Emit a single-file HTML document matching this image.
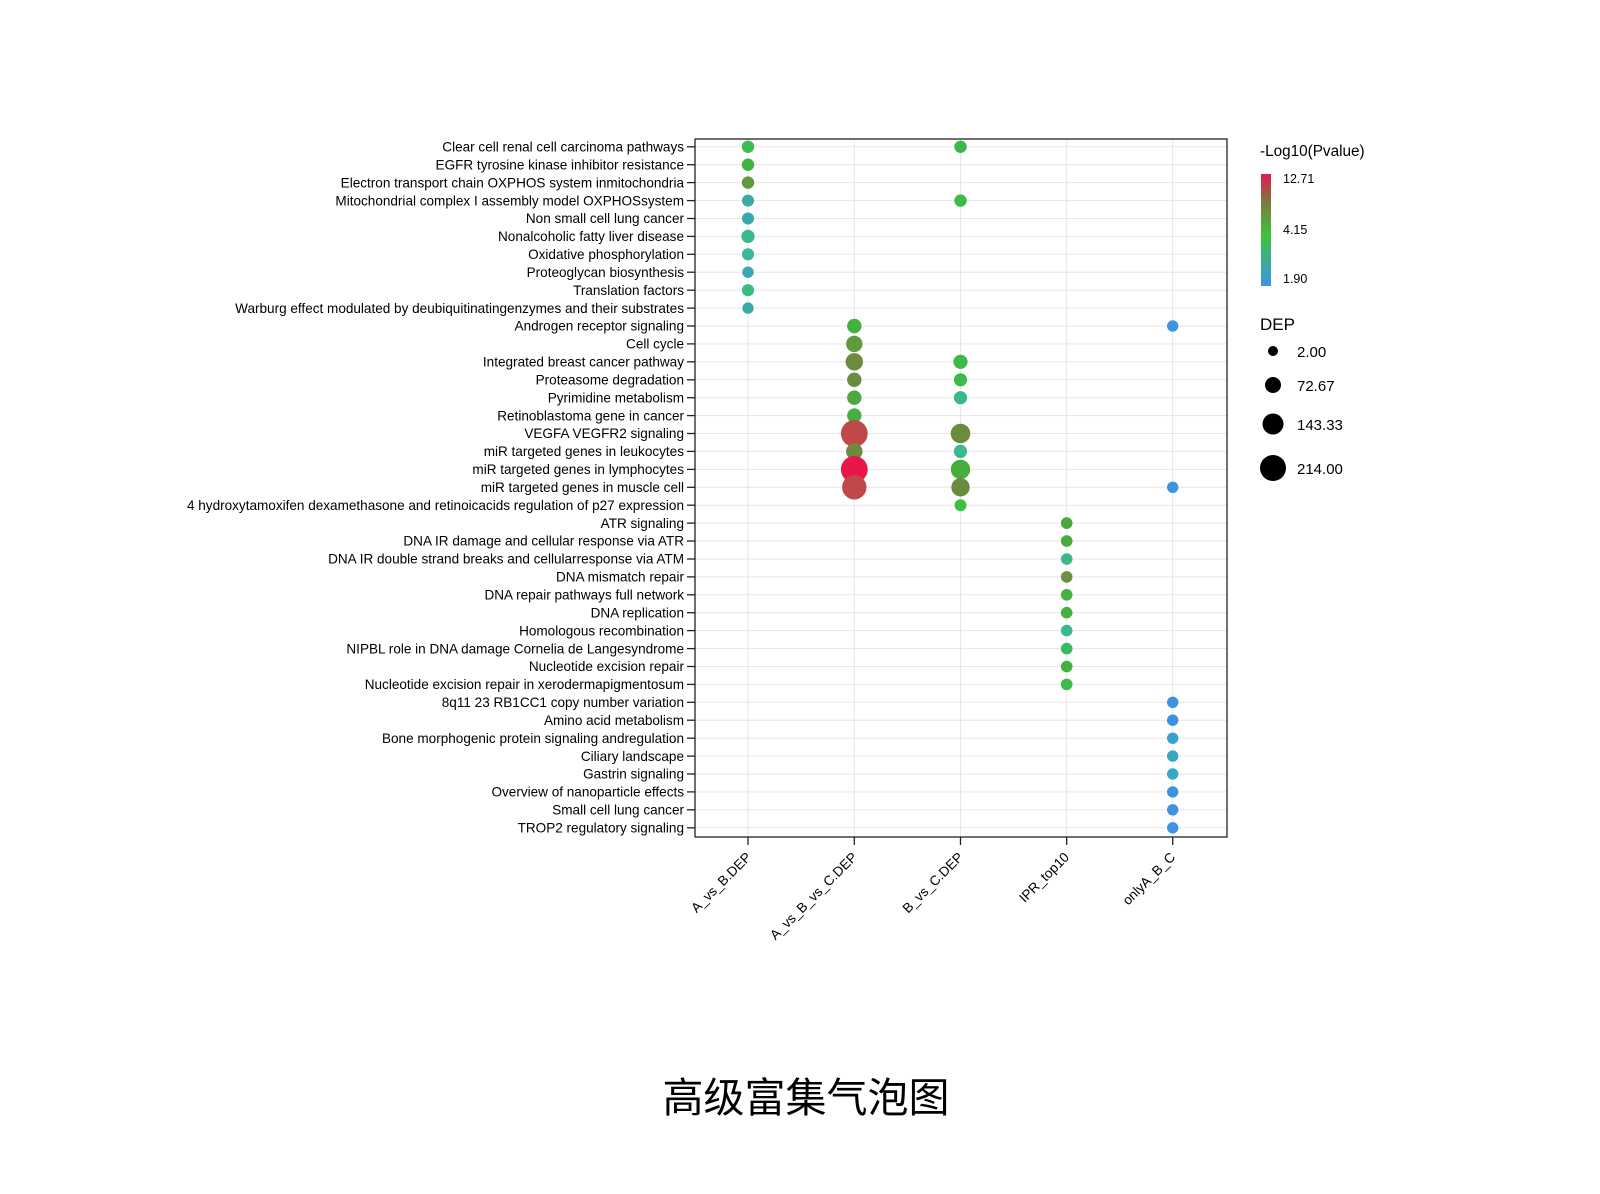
<!DOCTYPE html>
<html><head><meta charset="utf-8"><style>
html,body{margin:0;padding:0;background:#fff;}
svg{display:block;}
text{font-family:"Liberation Sans",Arial,sans-serif;fill:#000;}
</style></head><body>
<svg width="1600" height="1194" viewBox="0 0 1600 1194" xmlns="http://www.w3.org/2000/svg">
<defs><linearGradient id="cg" x1="0" y1="1" x2="0" y2="0">
<stop offset="0" stop-color="#3e93e8"/><stop offset="0.45" stop-color="#3cc43c"/><stop offset="0.75" stop-color="#7a7a40"/><stop offset="1" stop-color="#e8174a"/></linearGradient></defs>
<g stroke="#e6e6e6" stroke-width="1">
<line x1="695" x2="1227" y1="146.8" y2="146.8"/><line x1="695" x2="1227" y1="164.7" y2="164.7"/><line x1="695" x2="1227" y1="182.6" y2="182.6"/><line x1="695" x2="1227" y1="200.6" y2="200.6"/><line x1="695" x2="1227" y1="218.5" y2="218.5"/><line x1="695" x2="1227" y1="236.4" y2="236.4"/><line x1="695" x2="1227" y1="254.3" y2="254.3"/><line x1="695" x2="1227" y1="272.2" y2="272.2"/><line x1="695" x2="1227" y1="290.2" y2="290.2"/><line x1="695" x2="1227" y1="308.1" y2="308.1"/><line x1="695" x2="1227" y1="326" y2="326"/><line x1="695" x2="1227" y1="343.9" y2="343.9"/><line x1="695" x2="1227" y1="361.8" y2="361.8"/><line x1="695" x2="1227" y1="379.8" y2="379.8"/><line x1="695" x2="1227" y1="397.7" y2="397.7"/><line x1="695" x2="1227" y1="415.6" y2="415.6"/><line x1="695" x2="1227" y1="433.5" y2="433.5"/><line x1="695" x2="1227" y1="451.4" y2="451.4"/><line x1="695" x2="1227" y1="469.4" y2="469.4"/><line x1="695" x2="1227" y1="487.3" y2="487.3"/><line x1="695" x2="1227" y1="505.2" y2="505.2"/><line x1="695" x2="1227" y1="523.1" y2="523.1"/><line x1="695" x2="1227" y1="541" y2="541"/><line x1="695" x2="1227" y1="559" y2="559"/><line x1="695" x2="1227" y1="576.9" y2="576.9"/><line x1="695" x2="1227" y1="594.8" y2="594.8"/><line x1="695" x2="1227" y1="612.7" y2="612.7"/><line x1="695" x2="1227" y1="630.6" y2="630.6"/><line x1="695" x2="1227" y1="648.6" y2="648.6"/><line x1="695" x2="1227" y1="666.5" y2="666.5"/><line x1="695" x2="1227" y1="684.4" y2="684.4"/><line x1="695" x2="1227" y1="702.3" y2="702.3"/><line x1="695" x2="1227" y1="720.2" y2="720.2"/><line x1="695" x2="1227" y1="738.2" y2="738.2"/><line x1="695" x2="1227" y1="756.1" y2="756.1"/><line x1="695" x2="1227" y1="774" y2="774"/><line x1="695" x2="1227" y1="791.9" y2="791.9"/><line x1="695" x2="1227" y1="809.8" y2="809.8"/><line x1="695" x2="1227" y1="827.8" y2="827.8"/>
<line x1="748" x2="748" y1="139" y2="837"/><line x1="854.3" x2="854.3" y1="139" y2="837"/><line x1="960.5" x2="960.5" y1="139" y2="837"/><line x1="1066.7" x2="1066.7" y1="139" y2="837"/><line x1="1172.7" x2="1172.7" y1="139" y2="837"/>
</g>
<rect x="695" y="139" width="532" height="698" fill="none" stroke="#222" stroke-width="1.3"/>
<g stroke="#222" stroke-width="1.3">
<line x1="687" x2="695" y1="146.8" y2="146.8"/><line x1="687" x2="695" y1="164.7" y2="164.7"/><line x1="687" x2="695" y1="182.6" y2="182.6"/><line x1="687" x2="695" y1="200.6" y2="200.6"/><line x1="687" x2="695" y1="218.5" y2="218.5"/><line x1="687" x2="695" y1="236.4" y2="236.4"/><line x1="687" x2="695" y1="254.3" y2="254.3"/><line x1="687" x2="695" y1="272.2" y2="272.2"/><line x1="687" x2="695" y1="290.2" y2="290.2"/><line x1="687" x2="695" y1="308.1" y2="308.1"/><line x1="687" x2="695" y1="326" y2="326"/><line x1="687" x2="695" y1="343.9" y2="343.9"/><line x1="687" x2="695" y1="361.8" y2="361.8"/><line x1="687" x2="695" y1="379.8" y2="379.8"/><line x1="687" x2="695" y1="397.7" y2="397.7"/><line x1="687" x2="695" y1="415.6" y2="415.6"/><line x1="687" x2="695" y1="433.5" y2="433.5"/><line x1="687" x2="695" y1="451.4" y2="451.4"/><line x1="687" x2="695" y1="469.4" y2="469.4"/><line x1="687" x2="695" y1="487.3" y2="487.3"/><line x1="687" x2="695" y1="505.2" y2="505.2"/><line x1="687" x2="695" y1="523.1" y2="523.1"/><line x1="687" x2="695" y1="541" y2="541"/><line x1="687" x2="695" y1="559" y2="559"/><line x1="687" x2="695" y1="576.9" y2="576.9"/><line x1="687" x2="695" y1="594.8" y2="594.8"/><line x1="687" x2="695" y1="612.7" y2="612.7"/><line x1="687" x2="695" y1="630.6" y2="630.6"/><line x1="687" x2="695" y1="648.6" y2="648.6"/><line x1="687" x2="695" y1="666.5" y2="666.5"/><line x1="687" x2="695" y1="684.4" y2="684.4"/><line x1="687" x2="695" y1="702.3" y2="702.3"/><line x1="687" x2="695" y1="720.2" y2="720.2"/><line x1="687" x2="695" y1="738.2" y2="738.2"/><line x1="687" x2="695" y1="756.1" y2="756.1"/><line x1="687" x2="695" y1="774" y2="774"/><line x1="687" x2="695" y1="791.9" y2="791.9"/><line x1="687" x2="695" y1="809.8" y2="809.8"/><line x1="687" x2="695" y1="827.8" y2="827.8"/>
<line x1="748" x2="748" y1="837" y2="845"/><line x1="854.3" x2="854.3" y1="837" y2="845"/><line x1="960.5" x2="960.5" y1="837" y2="845"/><line x1="1066.7" x2="1066.7" y1="837" y2="845"/><line x1="1172.7" x2="1172.7" y1="837" y2="845"/>
</g>
<g font-size="13.55" text-anchor="end">
<text x="684" y="151.5">Clear cell renal cell carcinoma pathways</text>
<text x="684" y="169.4">EGFR tyrosine kinase inhibitor resistance</text>
<text x="684" y="187.3">Electron transport chain OXPHOS system inmitochondria</text>
<text x="684" y="205.3">Mitochondrial complex I assembly model OXPHOSsystem</text>
<text x="684" y="223.2">Non small cell lung cancer</text>
<text x="684" y="241.1">Nonalcoholic fatty liver disease</text>
<text x="684" y="259">Oxidative phosphorylation</text>
<text x="684" y="276.9">Proteoglycan biosynthesis</text>
<text x="684" y="294.9">Translation factors</text>
<text x="684" y="312.8">Warburg effect modulated by deubiquitinatingenzymes and their substrates</text>
<text x="684" y="330.7">Androgen receptor signaling</text>
<text x="684" y="348.6">Cell cycle</text>
<text x="684" y="366.5">Integrated breast cancer pathway</text>
<text x="684" y="384.5">Proteasome degradation</text>
<text x="684" y="402.4">Pyrimidine metabolism</text>
<text x="684" y="420.3">Retinoblastoma gene in cancer</text>
<text x="684" y="438.2">VEGFA VEGFR2 signaling</text>
<text x="684" y="456.1">miR targeted genes in leukocytes</text>
<text x="684" y="474.1">miR targeted genes in lymphocytes</text>
<text x="684" y="492">miR targeted genes in muscle cell</text>
<text x="684" y="509.9">4 hydroxytamoxifen dexamethasone and retinoicacids regulation of p27 expression</text>
<text x="684" y="527.8">ATR signaling</text>
<text x="684" y="545.7">DNA IR damage and cellular response via ATR</text>
<text x="684" y="563.7">DNA IR double strand breaks and cellularresponse via ATM</text>
<text x="684" y="581.6">DNA mismatch repair</text>
<text x="684" y="599.5">DNA repair pathways full network</text>
<text x="684" y="617.4">DNA replication</text>
<text x="684" y="635.3">Homologous recombination</text>
<text x="684" y="653.3">NIPBL role in DNA damage Cornelia de Langesyndrome</text>
<text x="684" y="671.2">Nucleotide excision repair</text>
<text x="684" y="689.1">Nucleotide excision repair in xerodermapigmentosum</text>
<text x="684" y="707">8q11 23 RB1CC1 copy number variation</text>
<text x="684" y="724.9">Amino acid metabolism</text>
<text x="684" y="742.9">Bone morphogenic protein signaling andregulation</text>
<text x="684" y="760.8">Ciliary landscape</text>
<text x="684" y="778.7">Gastrin signaling</text>
<text x="684" y="796.6">Overview of nanoparticle effects</text>
<text x="684" y="814.5">Small cell lung cancer</text>
<text x="684" y="832.5">TROP2 regulatory signaling</text>
</g>
<g font-size="13.55" text-anchor="end">
<text transform="translate(752,858) rotate(-45)">A_vs_B.DEP</text>
<text transform="translate(858,858) rotate(-45)">A_vs_B_vs_C.DEP</text>
<text transform="translate(964,858) rotate(-45)">B_vs_C.DEP</text>
<text transform="translate(1070,858) rotate(-45)">IPR_top10</text>
<text transform="translate(1176,858) rotate(-45)">onlyA_B_C</text>
</g>
<g>
<circle cx="748" cy="146.8" r="6.2" fill="#3dbb55"/><circle cx="960.5" cy="146.8" r="6.2" fill="#3cb84a"/>
<circle cx="748" cy="164.7" r="6.2" fill="#3cb540"/>
<circle cx="748" cy="182.6" r="6.2" fill="#5e9a3e"/>
<circle cx="748" cy="200.6" r="6" fill="#3aa9a8"/><circle cx="960.5" cy="200.6" r="6.2" fill="#3cbb4a"/>
<circle cx="748" cy="218.5" r="6" fill="#38a8b0"/>
<circle cx="748" cy="236.4" r="6.6" fill="#3ab88a"/>
<circle cx="748" cy="254.3" r="6.1" fill="#3ab898"/>
<circle cx="748" cy="272.2" r="5.7" fill="#3aa8b0"/>
<circle cx="748" cy="290.2" r="6.1" fill="#3abb80"/>
<circle cx="748" cy="308.1" r="5.7" fill="#3aaaa8"/>
<circle cx="854.3" cy="326" r="7.2" fill="#44b040"/><circle cx="1172.7" cy="326" r="5.7" fill="#3e93e0"/>
<circle cx="854.3" cy="343.9" r="8.2" fill="#5e9a3e"/>
<circle cx="854.3" cy="361.8" r="8.7" fill="#6e8a3e"/><circle cx="960.5" cy="361.8" r="7.1" fill="#3cbb4a"/>
<circle cx="854.3" cy="379.8" r="7.2" fill="#6a8c3e"/><circle cx="960.5" cy="379.8" r="6.6" fill="#3cbb4a"/>
<circle cx="854.3" cy="397.7" r="7.2" fill="#50a640"/><circle cx="960.5" cy="397.7" r="6.6" fill="#3ab88a"/>
<circle cx="854.3" cy="415.6" r="7.2" fill="#44b040"/>
<circle cx="854.3" cy="433.5" r="13.4" fill="#c04848"/><circle cx="960.5" cy="433.5" r="9.8" fill="#6a8c3c"/>
<circle cx="854.3" cy="451.4" r="8.2" fill="#6e8a3e"/><circle cx="960.5" cy="451.4" r="6.6" fill="#3ab890"/>
<circle cx="854.3" cy="469.4" r="13.4" fill="#e8174a"/><circle cx="960.5" cy="469.4" r="9.7" fill="#46ac3c"/>
<circle cx="854.3" cy="487.3" r="12.2" fill="#c04848"/><circle cx="960.5" cy="487.3" r="9.2" fill="#6a8c3e"/><circle cx="1172.7" cy="487.3" r="5.7" fill="#3e93e0"/>
<circle cx="960.5" cy="505.2" r="6" fill="#3cc040"/>
<circle cx="1066.7" cy="523.1" r="5.8" fill="#4ea63c"/>
<circle cx="1066.7" cy="541" r="5.8" fill="#48aa3c"/>
<circle cx="1066.7" cy="559" r="5.8" fill="#3ab88a"/>
<circle cx="1066.7" cy="576.9" r="5.8" fill="#6a9040"/>
<circle cx="1066.7" cy="594.8" r="5.8" fill="#44b040"/>
<circle cx="1066.7" cy="612.7" r="5.8" fill="#44b040"/>
<circle cx="1066.7" cy="630.6" r="5.8" fill="#3ab890"/>
<circle cx="1066.7" cy="648.6" r="5.8" fill="#3cb860"/>
<circle cx="1066.7" cy="666.5" r="5.8" fill="#44b040"/>
<circle cx="1066.7" cy="684.4" r="5.8" fill="#3cbb4a"/>
<circle cx="1172.7" cy="702.3" r="5.7" fill="#3e93e0"/>
<circle cx="1172.7" cy="720.2" r="5.7" fill="#4090e0"/>
<circle cx="1172.7" cy="738.2" r="5.7" fill="#3aa0d0"/>
<circle cx="1172.7" cy="756.1" r="5.7" fill="#38a8c0"/>
<circle cx="1172.7" cy="774" r="5.7" fill="#38a8c8"/>
<circle cx="1172.7" cy="791.9" r="5.7" fill="#3e93e0"/>
<circle cx="1172.7" cy="809.8" r="5.7" fill="#4090e0"/>
<circle cx="1172.7" cy="827.8" r="5.7" fill="#3e93e0"/>
</g>
<text x="1260" y="156" font-size="15.3">-Log10(Pvalue)</text>
<rect x="1261" y="174" width="10" height="112" fill="url(#cg)"/>
<text x="1283" y="183" font-size="12.5">12.71</text>
<text x="1283" y="234" font-size="12.5">4.15</text>
<text x="1283" y="283" font-size="12.5">1.90</text>
<text x="1260" y="330" font-size="17">DEP</text>
<circle cx="1273" cy="351" r="5" fill="#000"/><text x="1297" y="357" font-size="15">2.00</text>
<circle cx="1273" cy="385" r="8" fill="#000"/><text x="1297" y="391" font-size="15">72.67</text>
<circle cx="1273" cy="424" r="10.5" fill="#000"/><text x="1297" y="430" font-size="15">143.33</text>
<circle cx="1273" cy="468" r="13" fill="#000"/><text x="1297" y="474" font-size="15">214.00</text>
<text x="806" y="1112" font-size="41" text-anchor="middle" style="font-family:'Liberation Sans','Noto Sans CJK SC',sans-serif">高级富集气泡图</text>
</svg>
</body></html>
